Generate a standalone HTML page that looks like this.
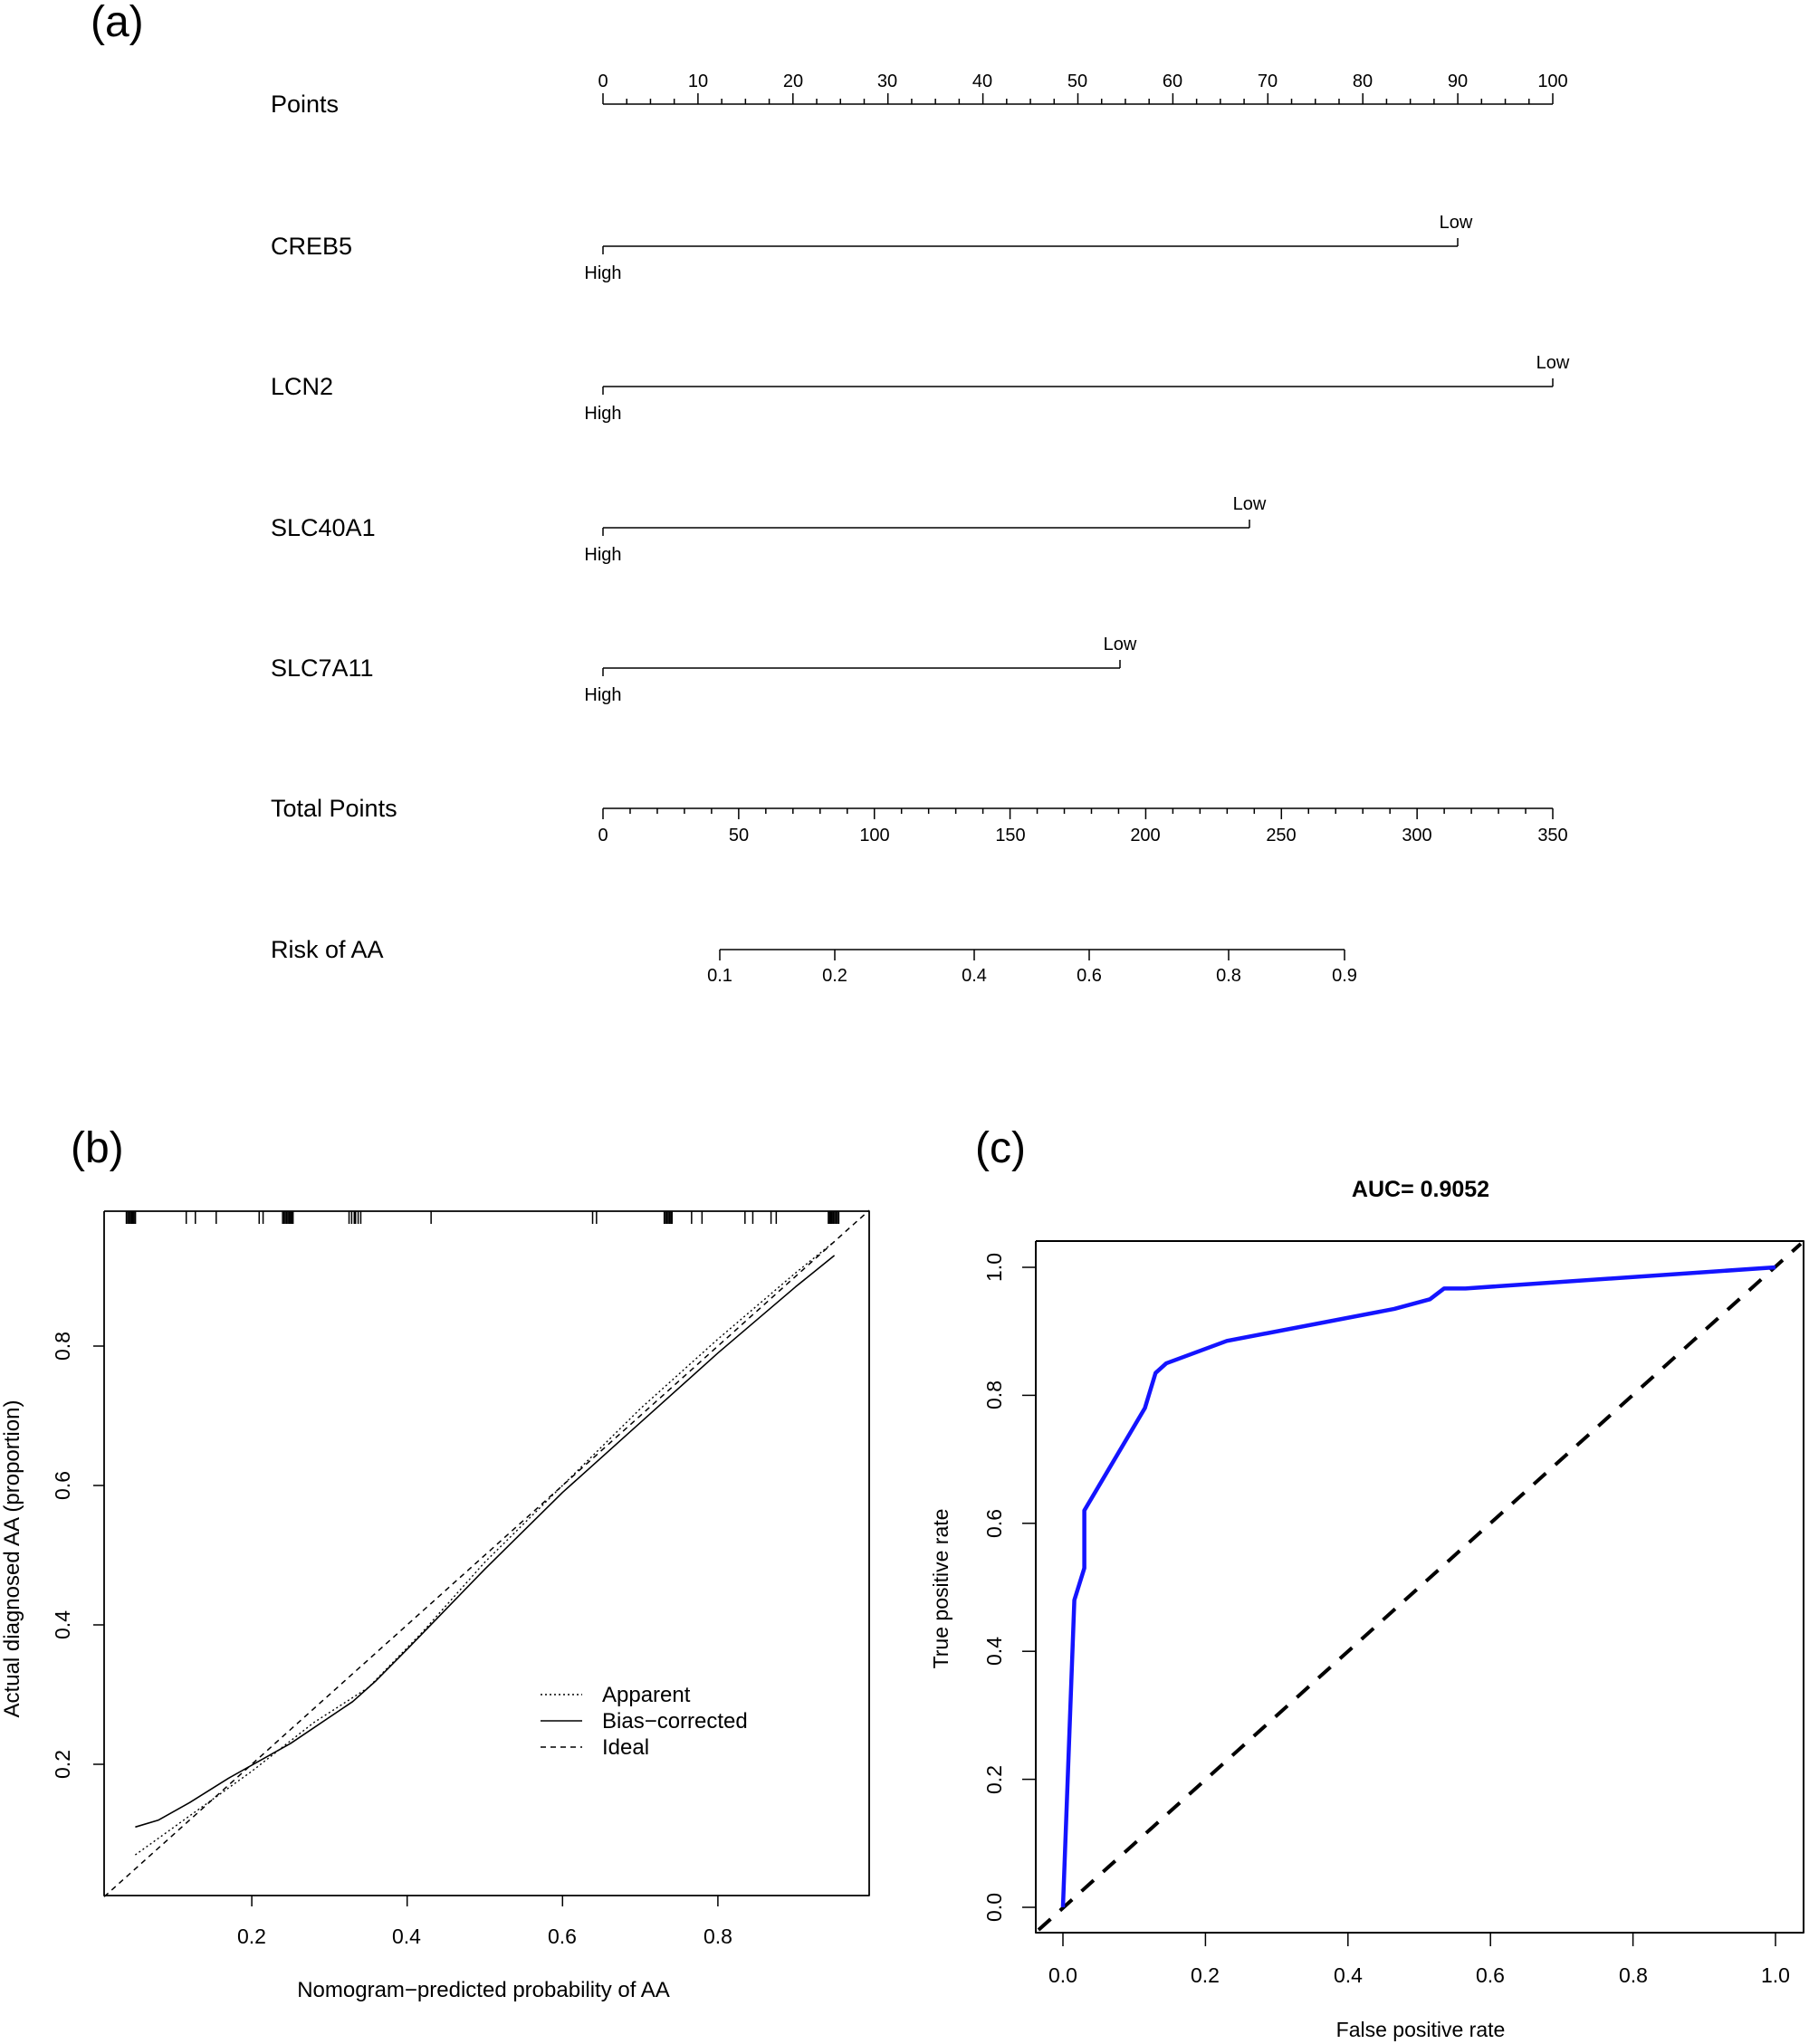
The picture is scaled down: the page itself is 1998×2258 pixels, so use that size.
<!DOCTYPE html>
<html><head><meta charset="utf-8"><style>
html,body{margin:0;padding:0;background:#fff;}
svg{display:block;font-family:"Liberation Sans",Arial,sans-serif;}
</style></head><body>
<svg id="s" width="1998" height="2258" viewBox="0 0 1998 2258" xmlns="http://www.w3.org/2000/svg">
<rect width="1998" height="2258" fill="#fff"/>
<g id="g" stroke="#000" fill="none"></g>
<g font-size="48" fill="#000"><text x="100" y="40">(a)</text><text x="78" y="1284">(b)</text><text x="1077" y="1284">(c)</text></g>
<g font-size="27" fill="#000">
<text x="299" y="124">Points</text>
<text x="299" y="281">CREB5</text>
<text x="299" y="436">LCN2</text>
<text x="299" y="592">SLC40A1</text>
<text x="299" y="747">SLC7A11</text>
<text x="299" y="902">Total Points</text>
<text x="299" y="1058">Risk of AA</text>
</g>
<g font-size="20" fill="#000" text-anchor="middle">
<text x="666" y="96">0</text><text x="771" y="96">10</text><text x="876" y="96">20</text><text x="980" y="96">30</text><text x="1085" y="96">40</text><text x="1190" y="96">50</text><text x="1295" y="96">60</text><text x="1400" y="96">70</text><text x="1505" y="96">80</text><text x="1610" y="96">90</text><text x="1715" y="96">100</text>
<text x="1608" y="252">Low</text><text x="666" y="308">High</text>
<text x="1715" y="407">Low</text><text x="666" y="463">High</text>
<text x="1380" y="563">Low</text><text x="666" y="619">High</text>
<text x="1237" y="718">Low</text><text x="666" y="774">High</text>
<text x="666" y="929">0</text><text x="816" y="929">50</text><text x="966" y="929">100</text><text x="1116" y="929">150</text><text x="1265" y="929">200</text><text x="1415" y="929">250</text><text x="1565" y="929">300</text><text x="1715" y="929">350</text>
<text x="795" y="1084">0.1</text><text x="922" y="1084">0.2</text><text x="1076" y="1084">0.4</text><text x="1203" y="1084">0.6</text><text x="1357" y="1084">0.8</text><text x="1485" y="1084">0.9</text>
</g>
<g font-size="23" fill="#000" text-anchor="middle">
<text x="278" y="2147">0.2</text><text x="449" y="2147">0.4</text><text x="621" y="2147">0.6</text><text x="793" y="2147">0.8</text>
<text x="534" y="2206" font-size="24">Nomogram−predicted probability of AA</text>
<text transform="translate(77,1949) rotate(-90)">0.2</text>
<text transform="translate(77,1795) rotate(-90)">0.4</text>
<text transform="translate(77,1641) rotate(-90)">0.6</text>
<text transform="translate(77,1487) rotate(-90)">0.8</text>
<text transform="translate(21,1722) rotate(-90)" font-size="24">Actual diagnosed AA (proportion)</text>
</g>
<g font-size="24" fill="#000"><text x="665" y="1880">Apparent</text><text x="665" y="1909">Bias−corrected</text><text x="665" y="1938">Ideal</text></g>
<g font-size="23" fill="#000" text-anchor="middle">
<text x="1569" y="1322" font-weight="bold" font-size="25">AUC= 0.9052</text>
<text x="1174" y="2190">0.0</text><text x="1331" y="2190">0.2</text><text x="1489" y="2190">0.4</text><text x="1646" y="2190">0.6</text><text x="1804" y="2190">0.8</text><text x="1961" y="2190">1.0</text>
<text x="1569" y="2250">False positive rate</text>
<text transform="translate(1106,2107) rotate(-90)">0.0</text>
<text transform="translate(1106,1966) rotate(-90)">0.2</text>
<text transform="translate(1106,1824) rotate(-90)">0.4</text>
<text transform="translate(1106,1683) rotate(-90)">0.6</text>
<text transform="translate(1106,1541) rotate(-90)">0.8</text>
<text transform="translate(1106,1400) rotate(-90)">1.0</text>
<text transform="translate(1047,1755) rotate(-90)">True positive rate</text>
</g>
</svg>
<script>
const g=document.getElementById('g');const NS="http://www.w3.org/2000/svg";
function L(x1,y1,x2,y2,w,da,c){const e=document.createElementNS(NS,'line');e.setAttribute('x1',x1);e.setAttribute('y1',y1);e.setAttribute('x2',x2);e.setAttribute('y2',y2);e.setAttribute('stroke-width',w||1.5);if(da)e.setAttribute('stroke-dasharray',da);if(c)e.setAttribute('stroke',c);g.appendChild(e);}
function P(pts,w,da,c){const e=document.createElementNS(NS,'polyline');e.setAttribute('points',pts.map(p=>p.join(',')).join(' '));e.setAttribute('stroke-width',w);if(da)e.setAttribute('stroke-dasharray',da);if(c)e.setAttribute('stroke',c);e.setAttribute('stroke-linejoin','round');g.appendChild(e);}
const x0=666,x1=1715;
L(x0,115,x1,115);
for(let p=0;p<=100;p+=2.5){const x=x0+(x1-x0)*p/100;L(x,115,x,p%10==0?103:109);}
[[272,1610],[427,1715],[583,1380],[738,1237]].forEach(([y,xe])=>{L(x0,y,xe,y);L(x0,y,x0,y+9);L(xe,y,xe,y-9);});
L(x0,893,x1,893);
for(let p=0;p<=350;p+=10){const x=x0+(x1-x0)*p/350;L(x,893,x,p%50==0?905:899);}
L(795,1049,1485,1049);
[795,922,1076,1203,1357,1485].forEach(x=>L(x,1049,x,1061));
const bx=p=>106.5+858*p, by=v=>2103-770*v;
P([[115,1338],[960,1338],[960,2094],[115,2094],[115,1338]],1.8);
[0.2,0.4,0.6,0.8].forEach(v=>{L(bx(v),2094,bx(v),2106);L(115,by(v),103,by(v));});
[97,98,99,100,101,102,103,104,143,150,166,199,202,217,218,219,220,221,222,223,224,225,268,270,272,273,275,277,331,455,458,510,511,512,513,514,515,516,531,539,572,578,592,596,636,637,638,639,640,641,642,643,644].forEach(xd=>{const x=xd*1.4385;L(x,1338,x,1352,1.5);});
P([[bx(0.01),by(0.01)],[960,by((960-106.5)/858)]],1.5,"6,5");
P([[0.05,0.07],[0.1,0.11],[0.2,0.19],[0.28,0.26],[0.35,0.31],[0.42,0.39],[0.5,0.49],[0.6,0.6],[0.7,0.71],[0.8,0.81],[0.9,0.905],[0.95,0.95]].map(([a,b])=>[bx(a),by(b)]),1.4,"2,3");
P([[0.05,0.11],[0.08,0.12],[0.12,0.145],[0.17,0.18],[0.25,0.23],[0.33,0.29],[0.36,0.32],[0.4,0.365],[0.5,0.48],[0.6,0.59],[0.7,0.69],[0.8,0.79],[0.9,0.885],[0.95,0.93]].map(([a,b])=>[bx(a),by(b)]),1.6);
L(597,1872,643,1872,1.4,"2,3");L(597,1901,643,1901,1.6);L(597,1930,643,1930,1.5,"6,5");
const cx=f=>1174+787*f, cy=t=>2107-707*t;
P([[1144,1371],[1992,1371],[1992,2135],[1144,2135],[1144,1371]],2);
[0,0.2,0.4,0.6,0.8,1].forEach(v=>{L(cx(v),2135,cx(v),2150,1.5);L(1144,cy(v),1129,cy(v),1.5);});
P([[1147,2132],[1989,1374]],4,"18,14");
P([[0,0],[0.016,0.48],[0.03,0.53],[0.03,0.62],[0.115,0.78],[0.13,0.835],[0.145,0.85],[0.23,0.885],[0.465,0.935],[0.515,0.95],[0.535,0.967],[0.565,0.967],[1,1]].map(([a,b])=>[cx(a),cy(b)]),4.5,null,"#1414ff");
</script>
</body></html>
